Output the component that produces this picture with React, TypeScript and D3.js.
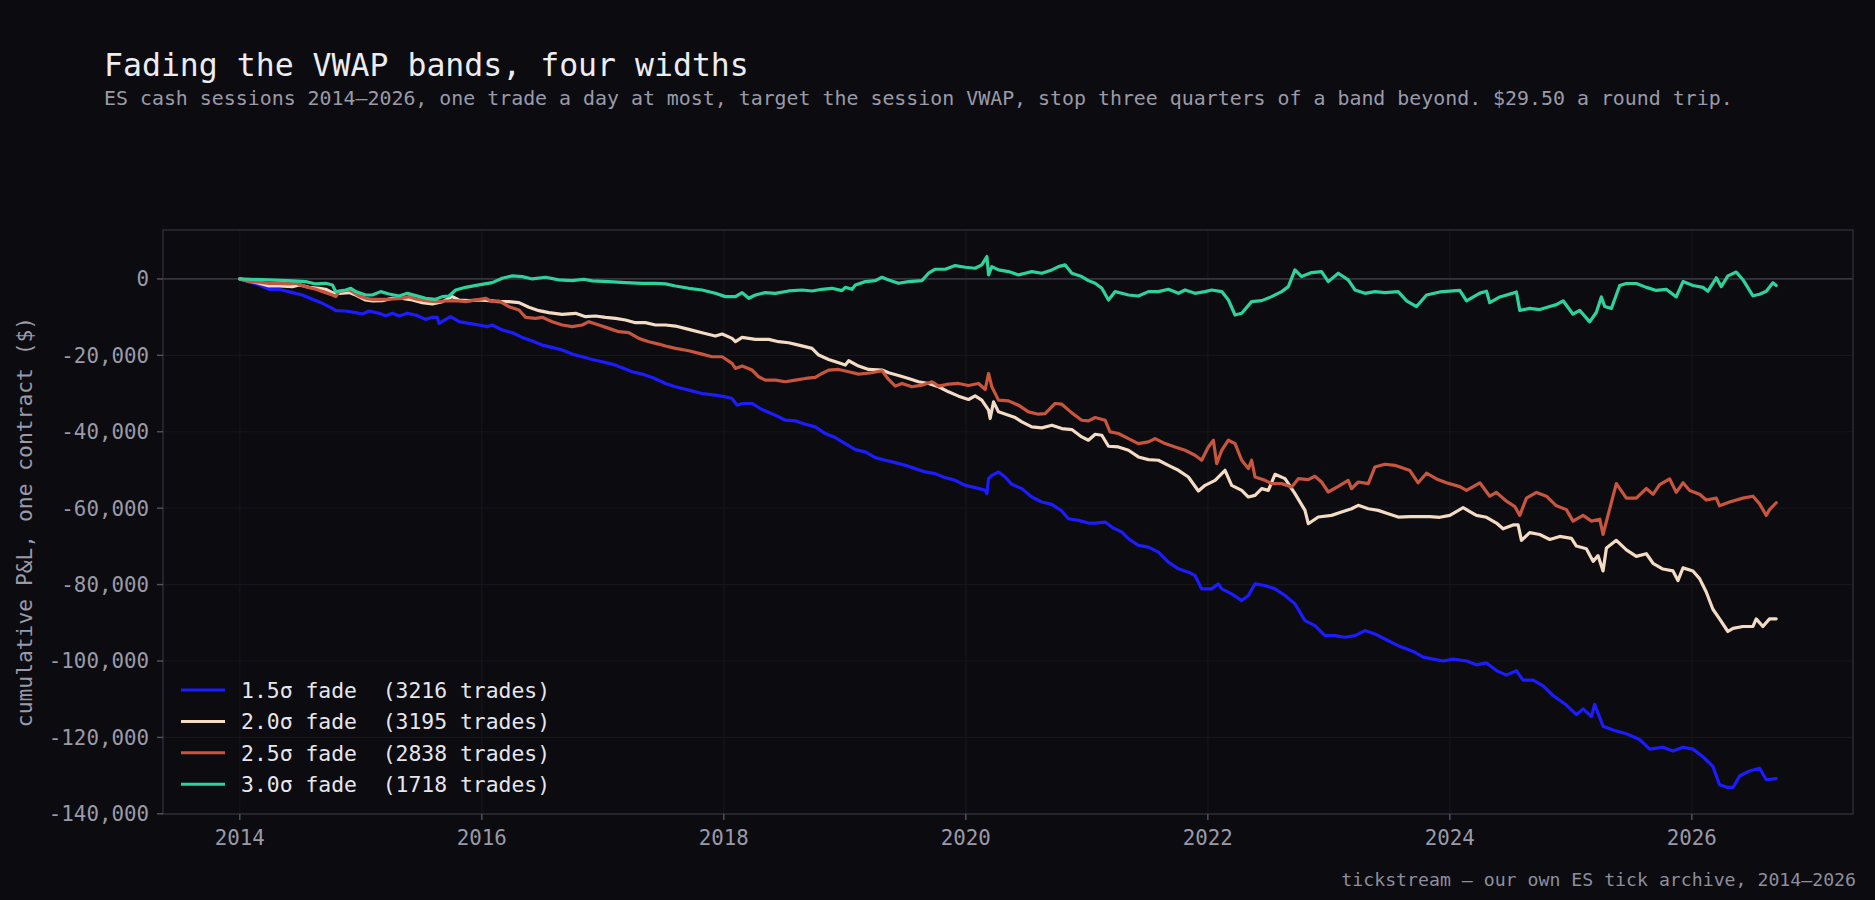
import React, { useEffect } from "react";
import * as d3 from "d3";

// ---------- data (decimal year, cumulative P&L in $) ----------
const seriesLabels = ["1.5σ fade", "2.0σ fade", "2.5σ fade", "3.0σ fade"];
const tradeCounts = [3216, 3195, 2838, 1718];
const seriesColors = ["#1c1cff", "#f4dcc4", "#c8553d", "#2ed39c"];

const fade15: [number, number][] = [
  [2014.0, 0], [2014.16, -1570], [2014.242, -2710], [2014.325, -2710], [2014.435, -3580], [2014.517, -4200],
  [2014.6, -5330], [2014.683, -6380], [2014.765, -7690], [2014.793, -8300], [2014.875, -8390], [2014.958, -8830],
  [2015.013, -9180], [2015.068, -8390], [2015.151, -9000], [2015.206, -9620], [2015.261, -9000], [2015.316, -9700],
  [2015.385, -9000], [2015.453, -9440], [2015.536, -10580], [2015.591, -10050], [2015.632, -10050], [2015.646, -11630],
  [2015.701, -10580], [2015.742, -9880], [2015.811, -11190], [2015.894, -11630], [2015.976, -12060], [2016.045, -12500],
  [2016.086, -12060], [2016.169, -13370], [2016.252, -14070], [2016.334, -15300], [2016.417, -16260], [2016.499, -17310],
  [2016.582, -17920], [2016.664, -18620], [2016.747, -19670], [2016.83, -20370], [2016.912, -21070], [2016.995, -21680],
  [2017.077, -22290], [2017.16, -23250], [2017.242, -24300], [2017.325, -24910], [2017.407, -25790], [2017.49, -26920],
  [2017.518, -27360], [2017.6, -28230], [2017.71, -29110], [2017.82, -29980], [2017.93, -30420], [2018.013, -30860],
  [2018.068, -31290], [2018.109, -33040], [2018.151, -32600], [2018.233, -32600], [2018.316, -34180], [2018.426, -35660],
  [2018.509, -36980], [2018.591, -37150], [2018.674, -38020], [2018.756, -38720], [2018.839, -40470], [2018.921, -41520],
  [2019.004, -43090], [2019.087, -44670], [2019.169, -45280], [2019.252, -46760], [2019.334, -47460], [2019.417, -48080],
  [2019.499, -48780], [2019.582, -49650], [2019.665, -50520], [2019.747, -50960], [2019.83, -52010], [2019.912, -52710],
  [2019.995, -54020], [2020.077, -54630], [2020.16, -55330], [2020.174, -56200], [2020.188, -52270], [2020.215, -51400],
  [2020.27, -50520], [2020.325, -51830], [2020.38, -53760], [2020.463, -54890], [2020.545, -57080], [2020.628, -58390],
  [2020.711, -59000], [2020.793, -60750], [2020.848, -62760], [2020.931, -63200], [2021.013, -63900], [2021.069, -63900],
  [2021.151, -63630], [2021.206, -64950], [2021.289, -66260], [2021.344, -68000], [2021.426, -69750], [2021.509, -70190],
  [2021.592, -71500], [2021.674, -74120], [2021.757, -75870], [2021.839, -76750], [2021.894, -77620], [2021.949, -81120],
  [2022.032, -81120], [2022.087, -79810], [2022.115, -81120], [2022.197, -82430], [2022.28, -84180], [2022.335, -82860],
  [2022.39, -79810], [2022.472, -80240], [2022.555, -81120], [2022.638, -82860], [2022.72, -85050], [2022.803, -89420],
  [2022.885, -90730], [2022.968, -93350], [2023.05, -93350], [2023.133, -93790], [2023.216, -93350], [2023.298, -92040],
  [2023.381, -92920], [2023.463, -94230], [2023.573, -95980], [2023.697, -97490], [2023.78, -99000], [2023.862, -99500],
  [2023.945, -100000], [2024.027, -99500], [2024.138, -100000], [2024.22, -101000], [2024.303, -100500], [2024.385, -102510],
  [2024.468, -103710], [2024.55, -102510], [2024.605, -105010], [2024.688, -105010], [2024.771, -106520], [2024.853, -109030],
  [2024.963, -111530], [2025.046, -114040], [2025.101, -112540], [2025.17, -114540], [2025.197, -111330], [2025.266, -117050],
  [2025.349, -118050], [2025.459, -119060], [2025.569, -120560], [2025.652, -123070], [2025.761, -122570], [2025.844, -123570],
  [2025.927, -122570], [2026.009, -123070], [2026.092, -125070], [2026.174, -127580], [2026.229, -132400], [2026.298, -133100],
  [2026.34, -133100], [2026.395, -130090], [2026.477, -128790], [2026.56, -128080], [2026.615, -131090], [2026.697, -130790],
];

const fade20: [number, number][] = [
  [2014.0, 0], [2014.16, -1140], [2014.242, -1840], [2014.325, -1840], [2014.435, -2010], [2014.49, -1570],
  [2014.573, -2190], [2014.655, -2450], [2014.71, -2710], [2014.765, -3580], [2014.82, -3760], [2014.903, -3580],
  [2014.958, -4200], [2015.04, -5510], [2015.096, -5770], [2015.178, -5680], [2015.261, -5070], [2015.343, -5070],
  [2015.426, -5510], [2015.508, -6210], [2015.591, -6560], [2015.674, -5940], [2015.756, -4630], [2015.811, -5510],
  [2015.894, -5680], [2015.976, -5510], [2016.059, -5680], [2016.141, -5940], [2016.224, -5940], [2016.307, -6210],
  [2016.389, -7430], [2016.472, -8300], [2016.554, -8830], [2016.664, -9270], [2016.775, -9000], [2016.857, -9880],
  [2016.94, -9700], [2017.022, -10050], [2017.105, -10310], [2017.187, -10750], [2017.27, -11450], [2017.352, -11450],
  [2017.435, -12060], [2017.518, -12060], [2017.6, -12330], [2017.71, -13200], [2017.82, -14070], [2017.93, -14950],
  [2017.986, -14420], [2018.068, -15560], [2018.096, -16430], [2018.151, -15300], [2018.261, -15820], [2018.371, -15820],
  [2018.453, -16430], [2018.536, -16700], [2018.619, -17310], [2018.729, -18180], [2018.784, -19930], [2018.866, -21070],
  [2018.949, -21940], [2019.004, -22550], [2019.032, -21420], [2019.114, -22810], [2019.197, -23690], [2019.307, -23860],
  [2019.362, -24560], [2019.444, -25260], [2019.527, -26050], [2019.609, -26920], [2019.692, -27360], [2019.775, -28230],
  [2019.857, -29550], [2019.94, -30680], [2020.022, -31560], [2020.077, -30590], [2020.132, -31730], [2020.188, -34350],
  [2020.201, -36540], [2020.229, -32170], [2020.27, -34790], [2020.353, -35660], [2020.408, -36280], [2020.463, -37410],
  [2020.545, -38720], [2020.628, -38990], [2020.711, -38290], [2020.793, -39160], [2020.876, -39420], [2020.958, -41350],
  [2021.013, -42220], [2021.069, -40650], [2021.124, -40910], [2021.179, -43790], [2021.261, -43970], [2021.344, -44840],
  [2021.426, -46590], [2021.509, -47290], [2021.592, -47460], [2021.674, -48780], [2021.757, -50090], [2021.839, -51830],
  [2021.922, -55510], [2021.977, -54020], [2022.06, -52710], [2022.142, -50090], [2022.197, -54020], [2022.28, -55330],
  [2022.335, -57080], [2022.39, -56640], [2022.445, -54890], [2022.5, -55330], [2022.555, -51140], [2022.638, -52270],
  [2022.72, -56200], [2022.803, -60580], [2022.83, -64070], [2022.913, -62320], [2023.023, -61890], [2023.105, -61010],
  [2023.188, -60140], [2023.243, -59260], [2023.326, -60140], [2023.408, -60580], [2023.491, -61450], [2023.573, -62320],
  [2023.67, -62190], [2023.752, -62190], [2023.835, -62190], [2023.917, -62390], [2024.0, -61890], [2024.11, -59880],
  [2024.165, -60880], [2024.22, -61890], [2024.303, -62390], [2024.385, -63890], [2024.44, -65400], [2024.523, -64390],
  [2024.564, -64390], [2024.592, -68410], [2024.66, -66400], [2024.743, -66900], [2024.826, -68200], [2024.908, -67400],
  [2025.005, -67900], [2025.046, -69910], [2025.128, -70610], [2025.184, -73920], [2025.225, -72420], [2025.266, -76430],
  [2025.294, -70410], [2025.376, -68410], [2025.459, -70910], [2025.541, -72620], [2025.624, -71920], [2025.679, -74420],
  [2025.761, -75930], [2025.844, -76430], [2025.885, -78940], [2025.927, -75630], [2026.009, -76430], [2026.064, -78440],
  [2026.119, -81950], [2026.174, -86460], [2026.229, -88970], [2026.298, -92280], [2026.34, -91470], [2026.422, -90970],
  [2026.505, -90970], [2026.532, -88970], [2026.587, -90970], [2026.642, -88970], [2026.697, -88970],
];

const fade25: [number, number][] = [
  [2014.0, 0], [2014.077, -700], [2014.16, -870], [2014.242, -1140], [2014.325, -1140], [2014.407, -1310],
  [2014.462, -1140], [2014.545, -2010], [2014.628, -2710], [2014.71, -3580], [2014.765, -4200], [2014.793, -4630],
  [2014.82, -3320], [2014.903, -2890], [2014.93, -3320], [2014.985, -4460], [2015.04, -5070], [2015.096, -5330],
  [2015.178, -5330], [2015.261, -5250], [2015.343, -5070], [2015.398, -4630], [2015.453, -5250], [2015.536, -5680],
  [2015.618, -5940], [2015.701, -5770], [2015.784, -5680], [2015.866, -5940], [2015.949, -5510], [2016.031, -5070],
  [2016.086, -5940], [2016.141, -5770], [2016.224, -7260], [2016.307, -8130], [2016.362, -10050], [2016.444, -10310],
  [2016.499, -10050], [2016.582, -11190], [2016.664, -12060], [2016.747, -12500], [2016.83, -12060], [2016.885, -11190],
  [2016.967, -12060], [2017.05, -12940], [2017.132, -13810], [2017.215, -14070], [2017.297, -15560], [2017.38, -16430],
  [2017.462, -17050], [2017.518, -17570], [2017.6, -18180], [2017.71, -18790], [2017.82, -19670], [2017.903, -20370],
  [2017.986, -20370], [2018.068, -22120], [2018.096, -23430], [2018.151, -22810], [2018.233, -23860], [2018.288, -25610],
  [2018.343, -26490], [2018.426, -26490], [2018.509, -26920], [2018.591, -26490], [2018.674, -26050], [2018.756, -25790],
  [2018.811, -24740], [2018.866, -23860], [2018.949, -23690], [2019.032, -24300], [2019.114, -24910], [2019.224, -24560],
  [2019.307, -24040], [2019.362, -26310], [2019.417, -28060], [2019.472, -27360], [2019.554, -28230], [2019.637, -27800],
  [2019.72, -26920], [2019.775, -28060], [2019.857, -27530], [2019.94, -27360], [2020.022, -27880], [2020.105, -27360],
  [2020.16, -28930], [2020.188, -24740], [2020.215, -28230], [2020.27, -31730], [2020.353, -31910], [2020.435, -33040],
  [2020.518, -34790], [2020.6, -35400], [2020.655, -35230], [2020.738, -32600], [2020.793, -32780], [2020.876, -35050],
  [2020.958, -36980], [2021.013, -37150], [2021.069, -36280], [2021.151, -36980], [2021.192, -40030], [2021.261, -40470],
  [2021.344, -41780], [2021.426, -43090], [2021.509, -42660], [2021.564, -41780], [2021.647, -43090], [2021.729, -43970],
  [2021.812, -44840], [2021.894, -46150], [2021.949, -47460], [2022.004, -43970], [2022.046, -42220], [2022.073, -48340],
  [2022.115, -44840], [2022.17, -42220], [2022.225, -43090], [2022.28, -47460], [2022.335, -49650], [2022.362, -47460],
  [2022.39, -51830], [2022.472, -52710], [2022.527, -53580], [2022.61, -53580], [2022.693, -54460], [2022.748, -52270],
  [2022.83, -52530], [2022.885, -51660], [2022.94, -53150], [2022.995, -55770], [2023.078, -54280], [2023.16, -52710],
  [2023.188, -54890], [2023.243, -53150], [2023.326, -53580], [2023.381, -49210], [2023.463, -48510], [2023.546, -48780],
  [2023.67, -50150], [2023.738, -53360], [2023.807, -50850], [2023.89, -52360], [2023.972, -53360], [2024.082, -54360],
  [2024.138, -55370], [2024.248, -53360], [2024.33, -56870], [2024.385, -55870], [2024.468, -58170], [2024.537, -59580],
  [2024.578, -61890], [2024.633, -57370], [2024.716, -55870], [2024.798, -56870], [2024.881, -59380], [2024.963, -60380],
  [2025.018, -63390], [2025.101, -61890], [2025.17, -63390], [2025.239, -62890], [2025.266, -66900], [2025.307, -61890],
  [2025.376, -53560], [2025.459, -57370], [2025.541, -57370], [2025.624, -54860], [2025.679, -56370], [2025.734, -53860],
  [2025.817, -52360], [2025.871, -55870], [2025.927, -53360], [2025.982, -55370], [2026.064, -56370], [2026.119, -57870],
  [2026.202, -57370], [2026.229, -59380], [2026.312, -58380], [2026.422, -57370], [2026.505, -56870], [2026.56, -58880],
  [2026.615, -61890], [2026.642, -60380], [2026.697, -58580],
];

const fade30: [number, number][] = [
  [2014.0, 0], [2014.242, -260], [2014.435, -520], [2014.545, -700], [2014.628, -1310], [2014.71, -1140],
  [2014.765, -1570], [2014.793, -3320], [2014.875, -2890], [2014.917, -2450], [2014.958, -3320], [2015.04, -4200],
  [2015.096, -4200], [2015.164, -3320], [2015.233, -3930], [2015.316, -4460], [2015.385, -3760], [2015.453, -4370],
  [2015.536, -5070], [2015.618, -5330], [2015.674, -4630], [2015.729, -4460], [2015.784, -2890], [2015.866, -2190],
  [2015.976, -1570], [2016.086, -960], [2016.169, 180], [2016.252, 790], [2016.334, 610], [2016.417, 0],
  [2016.527, 440], [2016.637, -260], [2016.747, -440], [2016.843, -90], [2016.912, -520], [2017.05, -700],
  [2017.187, -960], [2017.325, -1140], [2017.435, -1140], [2017.518, -1310], [2017.6, -1840], [2017.71, -2450],
  [2017.82, -2890], [2017.93, -3760], [2018.013, -4630], [2018.096, -4630], [2018.151, -3580], [2018.206, -5070],
  [2018.261, -4200], [2018.343, -3580], [2018.426, -3760], [2018.536, -3150], [2018.646, -2890], [2018.729, -3150],
  [2018.811, -2710], [2018.894, -2450], [2018.976, -3060], [2019.004, -2190], [2019.059, -2710], [2019.087, -1570],
  [2019.169, -700], [2019.252, -440], [2019.307, 440], [2019.362, -260], [2019.444, -1140], [2019.527, -700],
  [2019.637, -440], [2019.692, 1490], [2019.747, 2540], [2019.83, 2540], [2019.912, 3500], [2019.995, 3060],
  [2020.077, 2800], [2020.132, 3670], [2020.174, 5860], [2020.188, 1050], [2020.215, 3230], [2020.27, 2360],
  [2020.353, 1920], [2020.435, 1050], [2020.49, 1490], [2020.545, 1920], [2020.628, 1490], [2020.711, 2360],
  [2020.766, 3230], [2020.821, 3670], [2020.876, 1490], [2020.958, 610], [2021.013, -440], [2021.069, -1140],
  [2021.124, -2450], [2021.179, -5510], [2021.234, -3320], [2021.289, -3760], [2021.344, -4200], [2021.426, -4460],
  [2021.509, -3320], [2021.592, -3320], [2021.674, -2710], [2021.757, -3760], [2021.812, -2890], [2021.894, -3760],
  [2021.977, -3320], [2022.032, -2890], [2022.115, -3320], [2022.17, -5510], [2022.225, -9440], [2022.28, -9000],
  [2022.362, -5940], [2022.445, -5680], [2022.527, -4630], [2022.61, -3320], [2022.665, -2010], [2022.72, 2360],
  [2022.775, 610], [2022.858, 1660], [2022.94, 1920], [2022.995, -700], [2023.078, 1490], [2023.16, -260],
  [2023.216, -2890], [2023.298, -3760], [2023.381, -3320], [2023.463, -3580], [2023.573, -3320], [2023.642, -5720],
  [2023.725, -7220], [2023.807, -4210], [2023.917, -3410], [2024.0, -3210], [2024.082, -3010], [2024.138, -5720],
  [2024.248, -3710], [2024.303, -3210], [2024.33, -6220], [2024.413, -4710], [2024.523, -3710], [2024.55, -3410],
  [2024.578, -8230], [2024.66, -7720], [2024.743, -8020], [2024.826, -7220], [2024.881, -6720], [2024.936, -5720],
  [2025.018, -9230], [2025.073, -8230], [2025.156, -11230], [2025.211, -8730], [2025.252, -4710], [2025.28, -7220],
  [2025.335, -7720], [2025.404, -1710], [2025.459, -1200], [2025.541, -1200], [2025.624, -2210], [2025.706, -3010],
  [2025.789, -2710], [2025.871, -4710], [2025.927, -700], [2026.009, -1710], [2026.092, -2210], [2026.133, -3210],
  [2026.202, 300], [2026.243, -2010], [2026.298, 800], [2026.367, 1810], [2026.422, -200], [2026.505, -4410],
  [2026.56, -4010], [2026.615, -3210], [2026.67, -1000], [2026.697, -1710],
];

const allSeries = [fade15, fade20, fade25, fade30];

const titleText = "Fading the VWAP bands, four widths";
const subtitleText =
  "ES cash sessions 2014–2026, one trade a day at most, target the session VWAP, stop three quarters of a band beyond. $29.50 a round trip.";
const yLabelText = "cumulative P&L, one contract ($)";
const captionText = "tickstream — our own ES tick archive, 2014–2026";

// ---------- layout / style ----------
const W = 1875;
const H = 900;
const plot = { left: 163, right: 1853, top: 230, bottom: 814 };
const BG = "#0b0b10";
const FONT = "'DejaVu Sans Mono', monospace";

export default function App() {
  useEffect(() => {
    document.body.style.margin = "0";
    document.body.style.background = BG;
  }, []);

  const all = allSeries.flat();
  const [xMin, xMax] = d3.extent(all, (d) => d[0]) as [number, number];
  const [yMin, yMax] = d3.extent(all, (d) => d[1]) as [number, number];
  const xPad = (xMax - xMin) * 0.05;
  const yPad = (yMax - yMin) * 0.05;

  const x = d3.scaleLinear().domain([xMin - xPad, xMax + xPad]).range([plot.left, plot.right]);
  const y = d3.scaleLinear().domain([yMin - yPad, yMax + yPad]).range([plot.bottom, plot.top]);

  const xTicks = x.ticks(7).filter((t) => Number.isInteger(t));
  const yTicks = y.ticks(8);
  const fmt = d3.format(",");
  const fmtY = (v: number) => fmt(v).replace("−", "-");

  const line = d3
    .line<[number, number]>()
    .x((d) => x(d[0]))
    .y((d) => y(d[1]));

  const legendX = 181;
  const legendY0 = 690;
  const legendDy = 31.4;

  return (
    <svg
      width={W}
      height={H}
      viewBox={`0 0 ${W} ${H}`}
      style={{ position: "absolute", left: 0, top: 0, display: "block", background: BG }}
      fontFamily={FONT}
    >
      <rect x={0} y={0} width={W} height={H} fill={BG} />

      {/* title & subtitle */}
      <text x={104} y={76} fill="#ececf1" fontSize={31.5}>
        {titleText}
      </text>
      <text x={104} y={105} fill="#9a9aa8" fontSize={19.9}>
        {subtitleText}
      </text>

      {/* grid */}
      <g>
        {xTicks.map((t) => (
          <line key={"gx" + t} x1={x(t)} x2={x(t)} y1={plot.top} y2={plot.bottom} stroke="#15151b" strokeWidth={1.2} />
        ))}
        {yTicks.map((t) => (
          <line key={"gy" + t} x1={plot.left} x2={plot.right} y1={y(t)} y2={y(t)} stroke="#15151b" strokeWidth={1.2} />
        ))}
      </g>

      {/* zero line */}
      <line x1={plot.left} x2={plot.right} y1={y(0)} y2={y(0)} stroke="#34343f" strokeWidth={1.7} />

      {/* series */}
      <g fill="none" strokeLinejoin="round" strokeLinecap="round">
        {allSeries.map((s, i) => (
          <path key={i} d={line(s) || ""} stroke={seriesColors[i]} strokeWidth={3.2} />
        ))}
      </g>

      {/* frame */}
      <rect
        x={plot.left}
        y={plot.top}
        width={plot.right - plot.left}
        height={plot.bottom - plot.top}
        fill="none"
        stroke="#2c2c36"
        strokeWidth={1.5}
      />

      {/* y axis ticks */}
      <g>
        {yTicks.map((t) => (
          <g key={"yt" + t}>
            <line x1={plot.left - 6} x2={plot.left} y1={y(t)} y2={y(t)} stroke="#55555f" strokeWidth={1.4} />
            <text x={plot.left - 14} y={y(t)} dy="0.36em" textAnchor="end" fill="#9a9aa8" fontSize={20.8}>
              {fmtY(t)}
            </text>
          </g>
        ))}
      </g>

      {/* x axis ticks */}
      <g>
        {xTicks.map((t) => (
          <g key={"xt" + t}>
            <line x1={x(t)} x2={x(t)} y1={plot.bottom} y2={plot.bottom + 6} stroke="#55555f" strokeWidth={1.4} />
            <text x={x(t)} y={845} textAnchor="middle" fill="#9a9aa8" fontSize={20.8}>
              {String(t)}
            </text>
          </g>
        ))}
      </g>

      {/* y label */}
      <text
        transform={`translate(32, ${(plot.top + plot.bottom) / 2}) rotate(-90)`}
        textAnchor="middle"
        fill="#9a9aa8"
        fontSize={21.3}
      >
        {yLabelText}
      </text>

      {/* legend */}
      <g>
        {seriesLabels.map((lab, i) => {
          const ly = legendY0 + i * legendDy;
          return (
            <g key={"lg" + i}>
              <line x1={legendX} x2={legendX + 44} y1={ly} y2={ly} stroke={seriesColors[i]} strokeWidth={3} />
              <text x={241} y={ly + 7.7} fill="#e6e6ec" fontSize={21.4} style={{ whiteSpace: "pre" }}>
                {`${lab}  (${tradeCounts[i]} trades)`}
              </text>
            </g>
          );
        })}
      </g>

      {/* caption */}
      <text x={1856} y={886} textAnchor="end" fill="#8e8e9c" fontSize={18.2}>
        {captionText}
      </text>
    </svg>
  );
}
